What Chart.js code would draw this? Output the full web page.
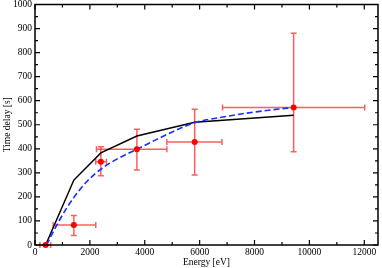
<!DOCTYPE html>
<html lang="en">
<head>
<meta charset="UTF-8" />
<title>Time delay vs Energy</title>
<script src="https://cdn.jsdelivr.net/npm/chart.js@4.4.0/dist/chart.umd.min.js"></script>
<style>
	html, body { margin:0; padding:0; background:#FFFFFF; }
	#delay_chart { display:block; }
</style>
</head>
<body>
<canvas id="delay_chart" width="382" height="268"></canvas>
<script>
// measured points with error bars
const energy     = [388, 1416, 2400, 3713, 5819, 9426];
const delay      = [0, 83, 346, 398, 428, 572];
const energyLow  = [180, 665, 2214, 2240, 4805, 6835];
const energyHigh = [570, 2214, 2602, 4805, 6813, 12015];
const delayLow   = [0, 39, 288, 312, 291, 388];
const delayHigh  = [0, 123, 409, 481, 564, 880];

// black model line
const modelEnergy = [388, 1416, 2400, 3713, 5819, 9426];
const modelDelay  = [0, 270, 383, 453, 510, 540];

// blue dashed fit
const fitEnergy = [420, 900, 1400, 1900, 2400, 3000, 3713, 4400, 5100, 5800, 6800, 7700, 8700, 9426];
const fitDelay  = [0, 105, 195, 265, 315, 358, 398, 437, 475, 508, 531, 548, 563, 572];

// axis ticks
const xMajorTicks = [0, 2000, 4000, 6000, 8000, 10000, 12000];
const xMinorTicks = [1000, 3000, 5000, 7000, 9000, 11000];
const yMajorTicks = [0, 100, 200, 300, 400, 500, 600, 700, 800, 900, 1000];
const yMinorTicks = [50, 150, 250, 350, 450, 550, 650, 750, 850, 950];

const errColor = 'rgba(255, 40, 40, 0.75)';

function pts(xs, ys) {
	return xs.map((x, i) => ({x: x, y: ys[i]}));
}

// error bars, frame and inward ticks
const framePlugin = {
	id: 'framePlugin',
	beforeDatasetsDraw(chart) {
		const ctx = chart.ctx, xs = chart.scales.x, ys = chart.scales.y;
		ctx.save();
		ctx.strokeStyle = errColor;
		ctx.lineWidth = 1.5;
		for (let i = 0; i < energy.length; i++) {
			const px = xs.getPixelForValue(energy[i]);
			const py = ys.getPixelForValue(delay[i]);
			const x0 = xs.getPixelForValue(energyLow[i]);
			const x1 = xs.getPixelForValue(energyHigh[i]);
			const y0 = ys.getPixelForValue(delayLow[i]);
			const y1 = ys.getPixelForValue(delayHigh[i]);
			ctx.beginPath();
			ctx.moveTo(x0, py); ctx.lineTo(x1, py);
			ctx.moveTo(x0, py - 3); ctx.lineTo(x0, py + 3);
			ctx.moveTo(x1, py - 3); ctx.lineTo(x1, py + 3);
			if (delayHigh[i] > delayLow[i]) {
				ctx.moveTo(px, y0); ctx.lineTo(px, y1);
				ctx.moveTo(px - 3, y0); ctx.lineTo(px + 3, y0);
				ctx.moveTo(px - 3, y1); ctx.lineTo(px + 3, y1);
			}
			ctx.stroke();
		}
		ctx.restore();
	},
	afterDatasetsDraw(chart) {
		const ctx = chart.ctx, a = chart.chartArea;
		const xs = chart.scales.x, ys = chart.scales.y;
		ctx.save();
		ctx.strokeStyle = '#000000';
		ctx.lineWidth = 1.2;
		ctx.beginPath();
		xMajorTicks.forEach(v => {
			const p = xs.getPixelForValue(v);
			ctx.moveTo(p, a.bottom); ctx.lineTo(p, a.bottom - 5);
			ctx.moveTo(p, a.top); ctx.lineTo(p, a.top + 5);
		});
		xMinorTicks.forEach(v => {
			const p = xs.getPixelForValue(v);
			ctx.moveTo(p, a.bottom); ctx.lineTo(p, a.bottom - 3);
			ctx.moveTo(p, a.top); ctx.lineTo(p, a.top + 3);
		});
		yMajorTicks.forEach(v => {
			const p = ys.getPixelForValue(v);
			ctx.moveTo(a.left, p); ctx.lineTo(a.left + 5, p);
			ctx.moveTo(a.right, p); ctx.lineTo(a.right - 5, p);
		});
		yMinorTicks.forEach(v => {
			const p = ys.getPixelForValue(v);
			ctx.moveTo(a.left, p); ctx.lineTo(a.left + 3, p);
			ctx.moveTo(a.right, p); ctx.lineTo(a.right - 3, p);
		});
		ctx.stroke();
		ctx.lineWidth = 1.5;
		ctx.strokeRect(a.left, a.top, a.right - a.left, a.bottom - a.top);
		ctx.restore();
	}
};

Chart.defaults.font.family = '"Liberation Serif", "DejaVu Serif", serif';
Chart.defaults.font.size = 9.5;
Chart.defaults.color = '#000000';

const delayChart = new Chart(document.getElementById('delay_chart'), {
	type: 'scatter',
	data: {
		datasets: [
			{
				label: 'data',
				data: pts(energy, delay),
				showLine: false,
				pointRadius: 3,
				pointBackgroundColor: '#FF0000',
				pointBorderColor: '#FF0000',
				pointBorderWidth: 0,
				clip: false
			},
			{
				label: 'fit',
				data: pts(fitEnergy, fitDelay),
				showLine: true,
				borderColor: 'rgb(25, 45, 255)',
				borderWidth: 1.6,
				borderDash: [6, 3],
				cubicInterpolationMode: 'monotone',
				pointRadius: 0,
				clip: false
			},
			{
				label: 'model',
				data: pts(modelEnergy, modelDelay),
				showLine: true,
				borderColor: '#000000',
				borderWidth: 1.5,
				tension: 0,
				pointRadius: 0,
				clip: false
			}
		]
	},
	options: {
		responsive: false,
		animation: false,
		layout: {padding: {left: 0, right: 3, top: 4.5, bottom: 0}},
		plugins: {legend: {display: false}, tooltip: {enabled: false}},
		scales: {
			x: {
				type: 'linear',
				min: 0, max: 12500,
				grid: {display: false, drawTicks: false},
				border: {display: false},
				ticks: {autoSkip: false, maxRotation: 0, padding: 2, callback: v => String(v)},
				afterBuildTicks: s => { s.ticks = xMajorTicks.map(v => ({value: v})); },
				afterFit: s => { s.height = 23; s.paddingLeft = 0; s.paddingRight = 0; },
				title: {display: true, text: 'Energy [eV]', padding: {top: 0, bottom: 0}}
			},
			y: {
				type: 'linear',
				min: 0, max: 1000,
				grid: {display: false, drawTicks: false},
				border: {display: false},
				ticks: {autoSkip: false, padding: 3, callback: v => String(v)},
				afterBuildTicks: s => { s.ticks = yMajorTicks.map(v => ({value: v})); },
				afterFit: s => { s.width = 35; s.paddingTop = 0; s.paddingBottom = 0; },
				title: {display: true, text: 'Time delay [s]', padding: {top: 2, bottom: 0}}
			}
		}
	},
	plugins: [framePlugin]
});
</script>
</body>
</html>
